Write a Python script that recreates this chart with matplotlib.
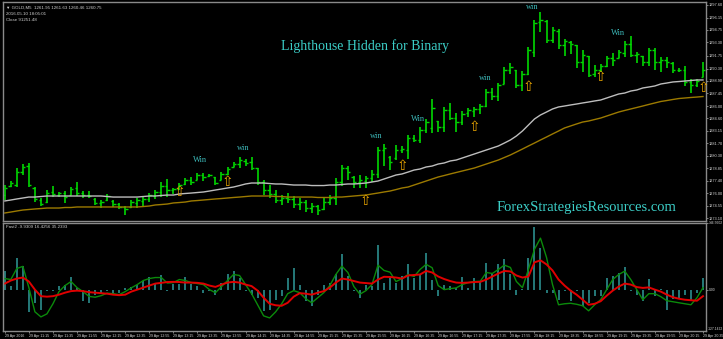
import matplotlib.pyplot as plt

# GOLD M5, 29 Apr 2016 - OHLC per bar
highs = [1276.93, 1277.39, 1278.88, 1279.34, 1279.46, 1276.70, 1275.44, 1276.36, 1276.82, 1276.13,
         1276.24, 1276.70, 1277.28, 1276.24, 1276.24, 1275.44, 1275.21, 1275.90, 1275.21, 1274.87,
         1274.52, 1275.21, 1275.44, 1275.55, 1276.01, 1276.36, 1277.28, 1277.62, 1276.59, 1277.16,
         1277.74, 1277.85, 1278.31, 1278.31, 1278.20, 1277.85, 1278.42, 1279.00, 1279.57, 1280.15,
         1279.92, 1280.15, 1278.88, 1277.51, 1276.93, 1276.36, 1275.78, 1276.01, 1275.67, 1275.44,
         1275.21, 1274.87, 1274.64, 1275.44, 1275.78, 1277.74, 1279.23, 1279.11, 1277.97, 1278.08,
         1277.97, 1278.65, 1281.29, 1281.64, 1280.26, 1281.52, 1281.41, 1282.67, 1282.67, 1283.59,
         1284.51, 1286.81, 1284.28, 1285.89, 1286.35, 1285.20, 1285.43, 1285.77, 1285.89, 1286.23,
         1287.95, 1288.07, 1288.64, 1290.48, 1290.94, 1290.13, 1290.02, 1292.77, 1295.87, 1296.79,
         1295.87, 1295.07, 1294.84, 1293.69, 1293.46, 1293.00, 1292.43, 1291.74, 1290.71, 1290.82,
         1291.74, 1292.09, 1292.43, 1293.46, 1294.04, 1292.20, 1291.74, 1292.66, 1292.66, 1291.63,
         1291.63, 1291.05, 1290.36, 1290.59, 1289.10, 1289.10, 1291.05]
lows = [1275.21, 1276.70, 1276.70, 1278.08, 1276.70, 1274.98, 1274.52, 1274.87, 1275.55, 1275.55,
        1274.87, 1275.78, 1275.67, 1275.44, 1275.44, 1274.64, 1274.29, 1275.10, 1274.41, 1274.18,
        1273.49, 1274.29, 1274.29, 1274.52, 1274.98, 1275.33, 1275.55, 1275.55, 1275.90, 1276.36,
        1276.93, 1276.93, 1277.51, 1277.39, 1277.85, 1276.93, 1277.51, 1278.08, 1279.00, 1278.88,
        1279.11, 1278.65, 1276.93, 1275.78, 1275.44, 1274.87, 1274.64, 1274.87, 1274.29, 1274.06,
        1273.83, 1273.72, 1273.49, 1274.06, 1274.64, 1274.64, 1276.82, 1277.51, 1276.59, 1276.59,
        1276.59, 1277.28, 1277.74, 1279.11, 1278.65, 1279.80, 1280.61, 1279.92, 1281.87, 1281.75,
        1282.90, 1282.90, 1283.02, 1283.02, 1284.39, 1283.02, 1283.82, 1284.74, 1284.74, 1285.08,
        1285.89, 1286.69, 1286.58, 1288.53, 1289.68, 1288.07, 1287.72, 1289.56, 1291.63, 1294.50,
        1293.23, 1293.23, 1292.55, 1291.74, 1291.97, 1290.36, 1289.90, 1289.33, 1289.33, 1289.90,
        1290.48, 1290.59, 1291.51, 1291.63, 1291.63, 1290.94, 1290.59, 1290.59, 1290.13, 1289.90,
        1290.36, 1289.79, 1289.90, 1288.30, 1287.49, 1288.18, 1289.33]
opens = [1275.78, 1276.82, 1276.93, 1278.42, 1279.11, 1276.59, 1275.21, 1274.98, 1276.13, 1275.78,
         1276.01, 1275.78, 1276.59, 1276.01, 1275.78, 1275.33, 1274.87, 1275.21, 1275.10, 1274.75,
         1274.41, 1274.41, 1274.87, 1275.10, 1275.33, 1275.67, 1276.13, 1276.82, 1276.36, 1276.47,
         1277.05, 1277.51, 1277.51, 1278.08, 1277.97, 1277.85, 1277.51, 1278.20, 1279.00, 1279.34,
         1279.69, 1279.57, 1278.88, 1277.28, 1276.36, 1275.90, 1275.21, 1275.44, 1275.33, 1274.75,
         1274.98, 1274.29, 1274.52, 1274.18, 1274.98, 1275.44, 1277.28, 1278.88, 1277.85, 1277.28,
         1277.39, 1277.74, 1278.20, 1280.95, 1280.15, 1280.03, 1280.95, 1280.95, 1282.33, 1282.10,
         1283.25, 1283.48, 1284.28, 1283.59, 1285.54, 1284.62, 1284.16, 1285.20, 1285.43, 1285.66,
         1286.00, 1287.61, 1287.15, 1288.53, 1290.13, 1290.13, 1288.41, 1289.68, 1292.20, 1295.64,
         1295.76, 1293.58, 1294.61, 1293.00, 1293.35, 1293.00, 1291.05, 1291.74, 1289.68, 1290.13,
         1290.59, 1291.51, 1291.51, 1292.09, 1293.12, 1291.86, 1291.74, 1291.05, 1292.43, 1291.05,
         1291.28, 1290.94, 1290.13, 1290.13, 1288.76, 1288.41, 1289.33]
closes = [1276.59, 1277.16, 1278.42, 1279.00, 1276.93, 1275.33, 1274.75, 1276.01, 1275.90, 1276.01,
          1275.55, 1276.47, 1276.01, 1275.78, 1275.67, 1274.87, 1274.98, 1275.67, 1274.75, 1274.41,
          1274.18, 1274.98, 1275.21, 1275.33, 1275.78, 1276.13, 1276.82, 1276.36, 1276.47, 1276.93,
          1277.51, 1277.28, 1278.08, 1277.85, 1278.08, 1277.16, 1278.20, 1278.77, 1279.34, 1279.80,
          1279.46, 1278.88, 1277.28, 1276.36, 1275.90, 1275.21, 1275.44, 1275.33, 1274.75, 1274.98,
          1274.29, 1274.52, 1274.06, 1274.98, 1275.44, 1277.28, 1278.88, 1278.42, 1277.28, 1277.51,
          1277.74, 1278.20, 1280.95, 1281.18, 1279.57, 1280.95, 1281.06, 1282.33, 1282.10, 1283.25,
          1284.16, 1285.77, 1283.59, 1285.54, 1284.62, 1284.16, 1285.08, 1285.54, 1285.66, 1286.00,
          1287.61, 1287.15, 1288.41, 1290.13, 1290.48, 1288.41, 1289.68, 1292.43, 1295.53, 1295.87,
          1293.58, 1294.73, 1293.00, 1293.46, 1293.12, 1291.05, 1291.86, 1289.56, 1290.13, 1290.59,
          1291.51, 1291.28, 1292.20, 1293.12, 1291.86, 1291.97, 1291.05, 1292.43, 1291.05, 1291.28,
          1291.05, 1290.13, 1290.13, 1288.76, 1288.41, 1288.87, 1290.13]

# the two moving averages on the price window
ma_fast = [1275.10, 1275.21, 1275.33, 1275.44, 1275.55, 1275.55, 1275.61, 1275.67, 1275.67, 1275.67,
           1275.67, 1275.67, 1275.67, 1275.67, 1275.67, 1275.67, 1275.67, 1275.61, 1275.55, 1275.55,
           1275.55, 1275.55, 1275.55, 1275.61, 1275.67, 1275.67, 1275.73, 1275.78, 1275.78, 1275.90,
           1275.96, 1276.01, 1276.07, 1276.13, 1276.24, 1276.36, 1276.47, 1276.59, 1276.70, 1276.87,
           1277.05, 1277.16, 1277.16, 1277.16, 1277.10, 1277.05, 1277.05, 1276.99, 1276.93, 1276.93,
           1276.93, 1276.87, 1276.87, 1276.87, 1276.93, 1276.93, 1276.99, 1277.05, 1277.05, 1277.10,
           1277.16, 1277.28, 1277.39, 1277.62, 1277.85, 1278.08, 1278.20, 1278.42, 1278.65, 1278.77,
           1279.00, 1279.11, 1279.34, 1279.46, 1279.69, 1279.80, 1280.03, 1280.26, 1280.49, 1280.72,
           1280.95, 1281.18, 1281.41, 1281.75, 1282.10, 1282.56, 1283.13, 1283.82, 1284.51, 1284.97,
           1285.31, 1285.66, 1285.89, 1286.00, 1286.12, 1286.23, 1286.35, 1286.46, 1286.58, 1286.69,
           1286.92, 1287.15, 1287.38, 1287.49, 1287.72, 1287.84, 1288.07, 1288.18, 1288.30, 1288.53,
           1288.64, 1288.76, 1288.81, 1288.87, 1288.93, 1288.99, 1288.99]
ma_slow = [1273.72, 1273.83, 1273.95, 1274.06, 1274.12, 1274.18, 1274.23, 1274.29, 1274.29, 1274.29,
           1274.35, 1274.35, 1274.41, 1274.41, 1274.41, 1274.41, 1274.41, 1274.41, 1274.41, 1274.41,
           1274.41, 1274.41, 1274.41, 1274.46, 1274.52, 1274.64, 1274.69, 1274.75, 1274.87, 1274.92,
           1274.98, 1275.10, 1275.15, 1275.21, 1275.27, 1275.33, 1275.38, 1275.44, 1275.50, 1275.55,
           1275.61, 1275.67, 1275.67, 1275.67, 1275.67, 1275.61, 1275.61, 1275.55, 1275.55, 1275.55,
           1275.55, 1275.55, 1275.50, 1275.50, 1275.50, 1275.55, 1275.55, 1275.61, 1275.67, 1275.73,
           1275.78, 1275.90, 1276.01, 1276.13, 1276.24, 1276.41, 1276.59, 1276.70, 1276.93, 1277.16,
           1277.39, 1277.62, 1277.85, 1278.02, 1278.20, 1278.37, 1278.54, 1278.71, 1278.88, 1279.11,
           1279.34, 1279.57, 1279.80, 1280.09, 1280.38, 1280.72, 1281.06, 1281.41, 1281.75, 1282.10,
           1282.44, 1282.79, 1283.13, 1283.48, 1283.71, 1283.94, 1284.16, 1284.28, 1284.45, 1284.62,
           1284.85, 1285.08, 1285.31, 1285.49, 1285.66, 1285.83, 1286.00, 1286.18, 1286.35, 1286.52,
           1286.63, 1286.75, 1286.86, 1286.92, 1286.98, 1287.03, 1287.09]

# Fast2 indicator window
fast_hist = [40.7, 7.4, 68.8, 51.8, -50, -30, -44, -3, -3, 7.4,
             11, 28, 3.7, -26, -30, -11, -7.4, -3.7, -11, -7.4,
             3.7, 5.2, 11, 18.5, 28, 14.8, 31.8, -3.7, 12.6, 12.6,
             28, 12.6, 8.9, -7.4, -3.7, -11, 14.8, 33.3, 40.7, 25.9,
             -3.7, -11, -18.5, -48, -44, -22, -14.8, 25.9, 48, 11,
             -26, -37, -11, 11, 14.8, 33.3, 79, 29.6, -3.7, -18.5,
             9.6, 7.4, 98, 14.8, 25.9, 14.8, 29.6, 55.5, 25.9, 33.3,
             81, 22, -14.8, 11, 7.4, 3.7, 27, 3.7, 26, 18.5,
             59, 33.3, 57, 66.6, 33.3, -11, 2, 70, 138, 92.5,
             -7.4, -7.4, -22, -3.7, -26, -3.7, -37, -30, -14.8, -14.8,
             26, 29.6, 37, 49.6, -3.7, -11, -26, 24.4, -14.8, 2,
             -44, -20, -20, -11, -26, -8, 26]
fast_line = [24.4, 22.2, 46.6, 51.1, 4.4, -48.8, -60.0, -53.3, -31.1, -4.4,
             8.9, 17.8, 4.4, -4.4, -14.9, -16.7, -13.3, -7.8, -8.9, -11.1,
             -4.4, 3.8, 11.1, 20.0, 24.4, 26.6, 26.6, 14.4, 15.5, 22.2,
             20.0, 15.5, 13.3, 11.1, 0, -6.7, 6.7, 20.0, 33.3, 31.1,
             11.1, -8.9, -33.3, -57.7, -62.2, -48.8, -31.1, -8.9, -2.2, -6.7,
             -20.0, -28.9, -17.8, -6.7, 8.9, 33.3, 51.7, 37.7, 6.7, -10.0,
             -2.2, 11.1, 53.9, 42.2, 38.4, 17.8, 24.4, 33.3, 28.9, 44.4,
             55.5, 48.2, 8.9, 0, 2.2, 3.8, 11.1, 15.5, 17.8, 18.4,
             37.7, 35.5, 44.4, 53.9, 48.8, 17.8, 4.4, 44.4, 88.8, 113.2,
             71.0, 11.1, -33.3, -31.1, -30.0, -32.2, -35.5, -46.6, -33.3, -22.2,
             0, 22.2, 33.3, 40.6, 22.2, 0, -22.2, -8.9, -8.9, -15.5,
             -24.4, -26.6, -28.9, -31.1, -33.3, -17.8, 4.4]
signal_line = [13.3, 20.0, 24.4, 26.6, 17.8, 0, -14.4, -15.5, -14.4, -11.1,
               -6.7, -3.3, -2.2, -3.3, -5.6, -6.7, -7.8, -8.9, -11.1, -12.2,
               -11.1, -4.4, 0, 4.4, 8.9, 13.3, 14.9, 16.7, 17.1, 16.7,
               15.5, 15.5, 14.9, 13.3, 8.9, 6.0, 11.1, 15.5, 17.1, 15.5,
               11.1, 7.8, -2.2, -17.8, -31.1, -34.4, -35.5, -28.9, -15.5, -7.8,
               -8.9, -11.1, -6.7, -3.3, 4.4, 15.5, 24.4, 22.2, 18.9, 15.5,
               14.4, 13.3, 22.2, 28.2, 27.8, 26.6, 24.4, 31.1, 32.2, 33.3,
               41.1, 37.7, 28.9, 23.3, 18.9, 15.5, 14.9, 15.5, 16.7, 17.1,
               22.2, 28.9, 35.5, 41.1, 40.0, 31.1, 26.6, 28.9, 60.0, 64.4,
               55.5, 42.2, 22.2, 8.9, -2.2, -11.1, -22.2, -33.3, -31.1, -25.5,
               -13.3, -2.2, 6.7, 13.3, 11.1, 5.6, 3.8, 4.9, 0, -4.4,
               -11.1, -16.7, -20.0, -22.2, -23.3, -24.4, -14.4]

price_ticks = [1297.60, 1296.15, 1294.75, 1293.30, 1291.75, 1290.30, 1288.90, 1287.45, 1286.00,
               1284.60, 1283.15, 1281.70, 1280.30, 1278.85, 1277.40, 1276.00, 1274.55, 1273.10]
time_labels = ['29 Apr 2016', '29 Apr 11:15', '29 Apr 11:35', '29 Apr 11:55', '29 Apr 12:15',
               '29 Apr 12:35', '29 Apr 12:55', '29 Apr 13:15', '29 Apr 13:35', '29 Apr 13:55',
               '29 Apr 14:15', '29 Apr 14:35', '29 Apr 14:55', '29 Apr 15:15', '29 Apr 15:35',
               '29 Apr 15:55', '29 Apr 16:15', '29 Apr 16:35', '29 Apr 16:55', '29 Apr 17:15',
               '29 Apr 17:35', '29 Apr 17:55', '29 Apr 18:15', '29 Apr 18:35', '29 Apr 18:55',
               '29 Apr 19:15', '29 Apr 19:35', '29 Apr 19:55', '29 Apr 20:15', '29 Apr 20:35']

# signal arrows and win marks (bar, price)
arrow_bars = [29, 37, 60, 66, 78, 87, 99, 116]
arrow_prices = [1276.13, 1277.28, 1275.10, 1279.11, 1283.59, 1288.18, 1289.33, 1288.07]
win_text = ['Win', 'win', 'win', 'Win', 'win', 'win', 'Win']
win_bars = [32.4, 39.6, 61.8, 68.6, 79.8, 87.7, 101.9]
win_prices = [1279.80, 1281.18, 1282.56, 1284.51, 1289.22, 1297.37, 1294.38]

SMALL = 'Liberation Sans'

W, H = 723, 339
fig = plt.figure(figsize=(W / 100, H / 100), dpi=100, facecolor='black')
ax = fig.add_axes([3 / W, 118 / H, 703 / W, 219 / H], facecolor='black')
ax2 = fig.add_axes([3 / W, 8 / H, 703 / W, 108 / H], facecolor='black')

n = len(closes)
xs = list(range(n))
bar_col = '#00d800'
ax.vlines(xs, lows, highs, color=bar_col, lw=1.2)
ax.hlines(opens, [x - 0.4 for x in xs], xs, color=bar_col, lw=1.0)
ax.hlines(closes, xs, [x + 0.4 for x in xs], color=bar_col, lw=1.0)
ax.plot(xs, ma_fast, color='#bdbdbd', lw=1.0)
ax.plot(xs, ma_slow, color='#9c7a00', lw=1.0)

for b, p in zip(arrow_bars, arrow_prices):
    ax.text(b, p, '\u21e7', color='#e8a400', fontsize=10, ha='center', va='center')
for t, b, p in zip(win_text, win_bars, win_prices):
    ax.text(b, p, t, color='#3cb8b8', fontsize=6, ha='center', va='center',
            family='Liberation Serif')

ax.text(0.515, 0.8, 'Lighthouse Hidden for Binary', transform=ax.transAxes,
        color='#3ccfc8', fontsize=10, ha='center', va='center', family='Liberation Serif')
ax.text(0.702, 0.06, 'ForexStrategiesResources.com', transform=ax.transAxes,
        color='#3ccfc8', fontsize=10.5, ha='left', va='center', family='Liberation Serif')

info = ['\u25bc GOLD,M5  1261.95 1261.63 1260.46 1260.75', '2016.05.10 18:05:01', 'Close 91251.48']
for k, line in enumerate(info):
    ax.text(0.004, 0.985 - 0.03 * k, line, transform=ax.transAxes, color='#d0d0d0',
            fontsize=3.2, va='top', family=['Liberation Sans', 'DejaVu Sans'])

ax.set_xlim(-0.3, 116.5)
ax.set_ylim(1272.80, 1297.94)
ax.yaxis.tick_right()
ax.set_yticks(price_ticks)
ax.set_yticklabels(['%.2f' % v for v in price_ticks], family=SMALL)
ax.tick_params(axis='y', colors='#9a9a9a', labelcolor='#d8d8d8', labelsize=2.8,
               length=1.5, width=0.6, pad=0.6)
ax.set_xticks([])

# indicator window
ax2.vlines(xs, 0, fast_hist, color='#2f9a9a', lw=1.1)
ax2.plot(xs, fast_line, color='#0b8a0b', lw=1.0)
ax2.plot(xs, signal_line, color='#e00000', lw=1.4)
ax2.set_xlim(-0.3, 116.5)
ax2.set_ylim(-91.0, 146.56)
ax2.yaxis.tick_right()
ax2.set_yticks([146.56, 0])
ax2.set_yticklabels(['146.5602', '0.00'], family=SMALL)
ax2.tick_params(axis='y', colors='#9a9a9a', labelcolor='#d8d8d8', labelsize=2.4,
                length=1.5, width=0.6, pad=0.6)
ax2.text(1.002, 0.0, '-127.1422', transform=ax2.transAxes, color='#d8d8d8',
         fontsize=2.4, va='bottom', family=SMALL)
ax2.text(0.004, 0.985, 'Fast2 -9.9309 16.4256 35.2393', transform=ax2.transAxes,
         color='#d0d0d0', fontsize=3.2, va='top', family=SMALL)
ax2.set_xticks(list(range(0, n, 4)))
ax2.set_xticklabels(time_labels, ha='left', family=SMALL)
ax2.tick_params(axis='x', colors='#9a9a9a', labelcolor='#d8d8d8', labelsize=2.6,
                length=1.5, width=0.6, pad=0.5)

for a in (ax, ax2):
    for s in a.spines.values():
        s.set_color('#8a8a8a')
        s.set_linewidth(1.0)

fig.savefig('out.png', dpi=100, facecolor='black')
